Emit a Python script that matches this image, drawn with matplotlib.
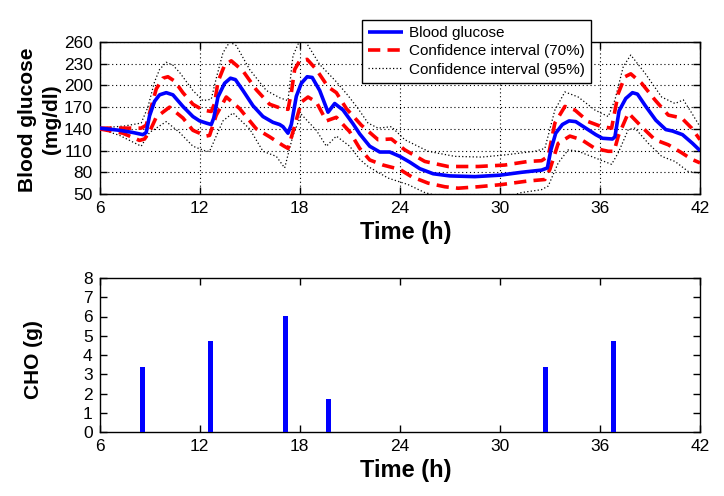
import matplotlib
matplotlib.use("Agg")
import matplotlib.pyplot as plt
from matplotlib import font_manager

# ---------------- data ----------------
bg_t = [6.0, 7.2, 8.0, 8.6, 8.8, 9.0, 9.3, 9.6, 10.0, 10.4, 11.0, 11.6, 12.0, 12.4, 12.7,
        12.85, 13.1, 13.5, 13.85, 14.15, 14.6, 15.2, 15.8, 16.4, 16.8, 17.0, 17.3, 17.5,
        17.8, 18.1, 18.45, 18.75, 19.2, 19.7, 20.1, 20.6, 21.2, 21.6, 22.2, 22.8, 23.4,
        24.0, 24.6, 25.2, 26.0, 27.0, 28.5, 30.0, 31.3, 32.5, 32.85, 33.05, 33.35, 33.75,
        34.15, 34.55, 35.15, 35.75, 36.15, 36.75, 36.9, 37.15, 37.55, 37.95, 38.25, 38.75,
        39.35, 39.95, 40.35, 40.95, 41.55, 42.0]
bg_v = [141, 138, 135, 132, 135, 158, 178, 187, 190, 187, 171, 157, 151, 148, 146,
        155, 184, 203, 210, 208, 193, 172, 157, 149, 146, 143, 134, 146,
        185, 203, 212, 211, 193, 163, 175, 166, 147, 133, 116, 108, 108,
        102, 94, 85, 78, 75, 74, 76, 80, 83, 86, 110, 134, 146,
        151, 150, 141, 132, 127, 126, 129, 165, 182, 190, 188, 171,
        152, 139, 137, 132, 120, 110]

u70_t = [6.0, 7.5, 8.5, 8.8, 9.1, 9.4, 9.8, 10.1, 10.5, 11.0, 11.6, 12.2, 12.7, 12.9, 13.1,
         13.5, 13.9, 14.6, 15.4, 16.2, 16.8, 17.3, 17.5, 17.7, 18.0, 18.45, 19.0, 19.7,
         20.2, 20.8, 21.7, 22.7, 23.5, 24.3, 25.5, 26.9, 28.7, 30.3, 31.7, 32.5, 32.9,
         33.3, 33.9, 34.5, 35.3, 36.1, 36.7, 37.1, 37.5, 37.85, 38.5, 39.3, 40.1, 40.9,
         41.5, 42.0]
u70_v = [141, 141, 141, 145, 170, 195, 210, 212, 206, 190, 174, 166, 164, 175, 205,
         228, 234, 220, 194, 174, 169, 167, 190, 222, 234, 236, 222, 198,
         190, 168, 145, 125, 126, 111, 95, 88, 88, 90, 95, 96, 102,
         148, 171, 166, 150, 143, 141, 189, 212, 216, 203, 180, 159, 155,
         141, 125]

l70_t = [6.0, 7.4, 8.4, 8.7, 9.0, 9.4, 10.2, 11.0, 11.6, 12.4, 12.6, 13.0, 13.6, 14.4,
         15.4, 16.2, 17.0, 17.3, 17.6, 18.1, 18.5, 19.0, 19.6, 20.2, 21.0, 21.6, 22.2,
         23.0, 24.0, 24.7, 25.7, 26.7, 27.5, 28.7, 30.1, 31.7, 32.7, 33.0, 33.5, 34.2,
         34.9, 35.7, 36.5, 36.85, 37.1, 37.7, 38.5, 39.3, 40.1, 40.9, 41.5, 42.0]
l70_v = [140, 134, 124, 126, 136, 156, 170, 155, 138, 130, 131, 159, 184, 168,
         140, 129, 117, 113, 136, 177, 184, 177, 151, 156, 136, 113, 97,
         90, 84, 74, 65, 60, 58, 60, 63, 68, 70, 84, 120, 130,
         125, 113, 109, 109, 130, 162, 143, 125, 118, 107, 98, 93]

u95_t = [6.0, 7.5, 8.5, 8.9, 9.3, 9.6, 10.0, 10.4, 10.8, 11.6, 12.2, 12.7, 13.0, 13.4,
         13.8, 14.2, 15.0, 16.0, 16.8, 17.3, 17.6, 18.0, 18.4, 19.2, 20.2, 20.9, 21.5,
         22.1, 22.7, 23.5, 24.3, 25.7, 27.3, 28.9, 30.3, 32.1, 32.7, 33.3, 33.9, 34.7,
         35.7, 36.5, 36.9, 37.4, 37.85, 38.7, 39.7, 40.5, 41.0, 41.5, 42.0]
u95_v = [141, 144, 148, 170, 205, 222, 232, 228, 218, 193, 179, 181, 210, 245,
         260, 255, 222, 193, 183, 179, 241, 262, 259, 229, 205, 186, 168,
         148, 141, 143, 125, 109, 102, 101, 104, 109, 113, 166, 191, 184,
         166, 157, 180, 226, 242, 217, 184, 175, 180, 162, 143]

l95_t = [6.0, 7.2, 8.5, 9.0, 10.0, 10.8, 11.6, 12.4, 12.6, 13.4, 14.0, 15.0, 15.8, 16.6,
         17.1, 17.6, 18.1, 19.0, 19.6, 20.2, 21.0, 21.6, 22.1, 23.3, 24.5, 25.5, 26.5,
         28.5, 30.5, 31.3, 32.5, 32.9, 33.5, 34.1, 34.7, 35.7, 36.7, 37.1, 37.7, 38.1,
         38.9, 39.7, 40.5, 41.3, 42.0]
l95_v = [140, 131, 116, 135, 150, 135, 116, 109, 109, 151, 162, 140, 109, 102,
         86, 131, 160, 138, 116, 130, 116, 98, 88, 72, 63, 52, 46,
         42, 46, 52, 56, 61, 93, 111, 109, 100, 91, 107, 139, 141,
         120, 102, 95, 81, 79]

cho_t = [8.6, 12.64, 17.16, 19.7, 32.76, 36.82]
cho_v = [3.38, 4.71, 6.04, 1.71, 3.38, 4.71]

x_ticks = [6, 12, 18, 24, 30, 36, 42]
bg_ticks = [50, 80, 110, 140, 170, 200, 230, 260]
cho_ticks = [0, 1, 2, 3, 4, 5, 6, 7, 8]

legend_labels = ["Blood glucose", "Confidence interval (70%)", "Confidence interval (95%)"]

# ---------------- style ----------------
names = {f.name for f in font_manager.fontManager.ttflist}
tick_font = "Liberation Sans Narrow" if "Liberation Sans Narrow" in names else "Liberation Sans"
plt.rcParams['font.family'] = ['Liberation Sans', 'DejaVu Sans']

fig = plt.figure(figsize=(7.24, 4.96), dpi=100)
W, H = 724, 496
def rect(l, t, r, b):
    return [l / W, 1 - b / H, (r - l) / W, (b - t) / H]

ax1 = fig.add_axes(rect(99.5, 42, 700, 194))
ax2 = fig.add_axes(rect(99.5, 278, 700, 432))

blue = '#0000ff'
red = '#ff0000'

l1, = ax1.plot(bg_t, bg_v, color=blue, lw=2.6, zorder=5, solid_capstyle='butt')
l2, = ax1.plot(u70_t, u70_v, color=red, lw=2.6, dashes=(3.4, 2.0), zorder=4)
ax1.plot(l70_t, l70_v, color=red, lw=2.6, dashes=(3.4, 2.0), zorder=4)
l3, = ax1.plot(u95_t, u95_v, color='black', lw=0.9, dashes=(1, 1.8), zorder=3)
ax1.plot(l95_t, l95_v, color='black', lw=0.9, dashes=(1, 1.8), zorder=3)

ax1.set_xlim(6, 42)
ax1.set_ylim(50, 260)
ax1.set_xticks(x_ticks)
ax1.set_yticks(bg_ticks)
ax1.grid(True, color='black', linestyle=(0, (1, 2.5)), lw=0.8)

ax2.bar(cho_t, cho_v, width=0.3, color=blue, zorder=3)
ax2.set_xlim(6, 42)
ax2.set_ylim(0, 8)
ax2.set_xticks(x_ticks)
ax2.set_yticks(cho_ticks)

for ax in (ax1, ax2):
    ax.tick_params(direction='in', top=True, right=True, length=5, width=1,
                   labelsize=12.5, pad=5)
    for lab in ax.get_xticklabels() + ax.get_yticklabels():
        lab.set_fontfamily(tick_font)
    for s in ax.spines.values():
        s.set_linewidth(1.0)
    ax.set_xlabel("Time (h)", fontsize=17, fontweight='bold')
    ax.xaxis.label.set_va('center')

ax1.xaxis.set_label_coords(0.51, -0.25)
ax2.xaxis.set_label_coords(0.51, -0.247)

ax1.set_ylabel("Blood glucose\n(mg/dl)", fontsize=15, fontweight='bold', linespacing=1.3)
ax1.yaxis.label.set_va('center')
ax1.yaxis.set_label_coords(-0.1, 0.49)
ax2.set_ylabel("CHO (g)", fontsize=15, fontweight='bold')
ax2.yaxis.label.set_va('center')
ax2.yaxis.set_label_coords(-0.110, 0.47)

leg = ax1.legend([l1, l2, l3], legend_labels, loc='upper left',
                 bbox_to_anchor=(362 / W, 1 - 20 / H), bbox_transform=fig.transFigure,
                 fancybox=False, framealpha=1, edgecolor='black', fontsize=11,
                 handlelength=2.3, handletextpad=0.4, borderpad=0.4, labelspacing=0.28,
                 borderaxespad=0)
leg.get_frame().set_linewidth(1.0)
leg.set_zorder(10)

fig.savefig("out.png", dpi=100)
